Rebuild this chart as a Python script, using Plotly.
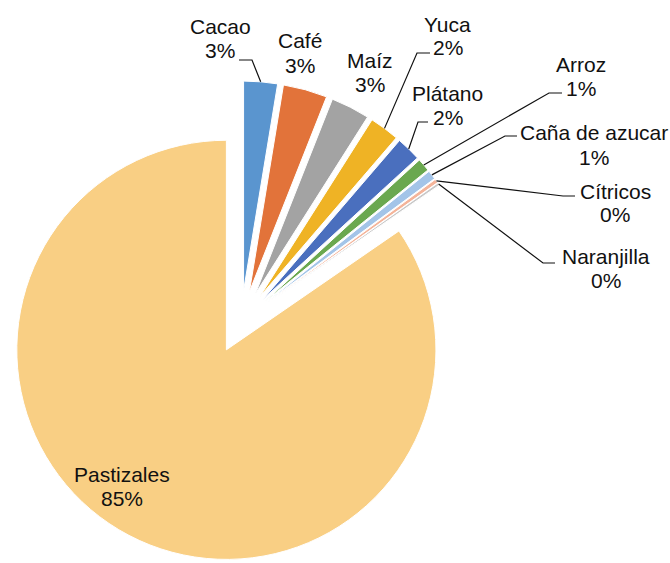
import math
import plotly.graph_objects as go

cultivos = ["Cacao", "Café", "Maíz", "Yuca", "Plátano", "Arroz",
            "Caña de azucar", "Cítricos", "Naranjilla", "Pastizales"]
porcentaje = [2.6, 3.4, 3.0, 2.3, 1.9, 1.0, 0.7, 0.3, 0.2, 84.6]

COLORES = ["#5A95CF", "#E2733A", "#A3A3A3", "#EFB325", "#4A6FBE",
           "#6AA84F", "#A3C4E8", "#F4B49A", "#C8C8C8", "#F9CF84"]

W, H = 670, 563
PULL = 0.15
BOX = 482                      # side of the pie box in px
CX, CY = BOX / 2, H - BOX / 2  # pie centre in px
R = BOX / (2 * (1 + PULL))     # radius plotly will use
LINE_GAP = 24                  # px between label name and percent

# hand-placed data labels (px centres) like the excel original
label_pos = {
    "Cacao": (220, 38.5), "Café": (299.5, 53), "Maíz": (370, 72.5),
    "Yuca": (447.5, 36), "Plátano": (447.5, 105), "Arroz": (581, 76.5),
    "Caña de azucar": (594, 145), "Cítricos": (615, 203),
    "Naranjilla": (605.5, 268), "Pastizales": (121.5, 486),
}
# leader lines: elbow then end next to the label
leaders = {
    "Cacao": [(252, 60), (239, 60)],
    "Yuca": [(417, 53), (430, 53)],
    "Plátano": [(418, 122), (428, 122)],
    "Arroz": [(549, 93), (562, 93)],
    "Caña de azucar": [(505, 136), (517, 136)],
    "Cítricos": [(563, 196), (575, 196)],
    "Naranjilla": [(543, 263), (555, 263)],
}


def px2paper(x, y):
    return x / W, 1 - y / H


fig = go.Figure(go.Pie(
    labels=cultivos, values=porcentaje, sort=False, direction="clockwise",
    rotation=0, pull=[PULL] * len(cultivos), textinfo="none",
    marker=dict(colors=COLORES, line=dict(color="white", width=1)),
    domain=dict(x=[0, BOX / W], y=[0, BOX / H]), showlegend=False,
))

total = sum(porcentaje)
acum = 0
shapes, annotations = [], []
for nombre, v in zip(cultivos, porcentaje):
    mid = 2 * math.pi * (acum + v / 2) / total
    acum += v
    sx, sy = math.sin(mid), -math.cos(mid)
    # mid point of the outer arc of the pulled slice
    ax = CX + (PULL * R + R) * sx
    ay = CY + (PULL * R + R) * sy
    lx, ly = label_pos[nombre]
    lineas = [nombre, f"{round(v / total * 100):.0f}%"]
    for k, texto in enumerate(lineas):
        x, y = px2paper(lx, ly + (k - 0.5) * LINE_GAP)
        annotations.append(dict(x=x, y=y, xref="paper", yref="paper", text=texto,
                                showarrow=False, xanchor="center", yanchor="middle"))
    if nombre in leaders:
        pts = [(ax, ay)] + leaders[nombre]
        path = ""
        for i, (px, py) in enumerate(pts):
            qx, qy = px2paper(px, py)
            path += ("M" if i == 0 else " L") + f"{qx:.5f},{qy:.5f}"
        shapes.append(dict(type="path", path=path, xref="paper", yref="paper",
                           line=dict(color="#111111", width=1.2)))

fig.update_layout(
    width=W, height=H, margin=dict(l=0, r=0, t=0, b=0),
    paper_bgcolor="white", plot_bgcolor="white",
    font=dict(family="Liberation Sans, Arial", size=21, color="#111111"),
    shapes=shapes, annotations=annotations,
)
# drop the default 8px body margin so the figure sits at the window corner
fig.write_html("out.html", config={"displayModeBar": False},
               post_script="document.body.style.margin='0';")
